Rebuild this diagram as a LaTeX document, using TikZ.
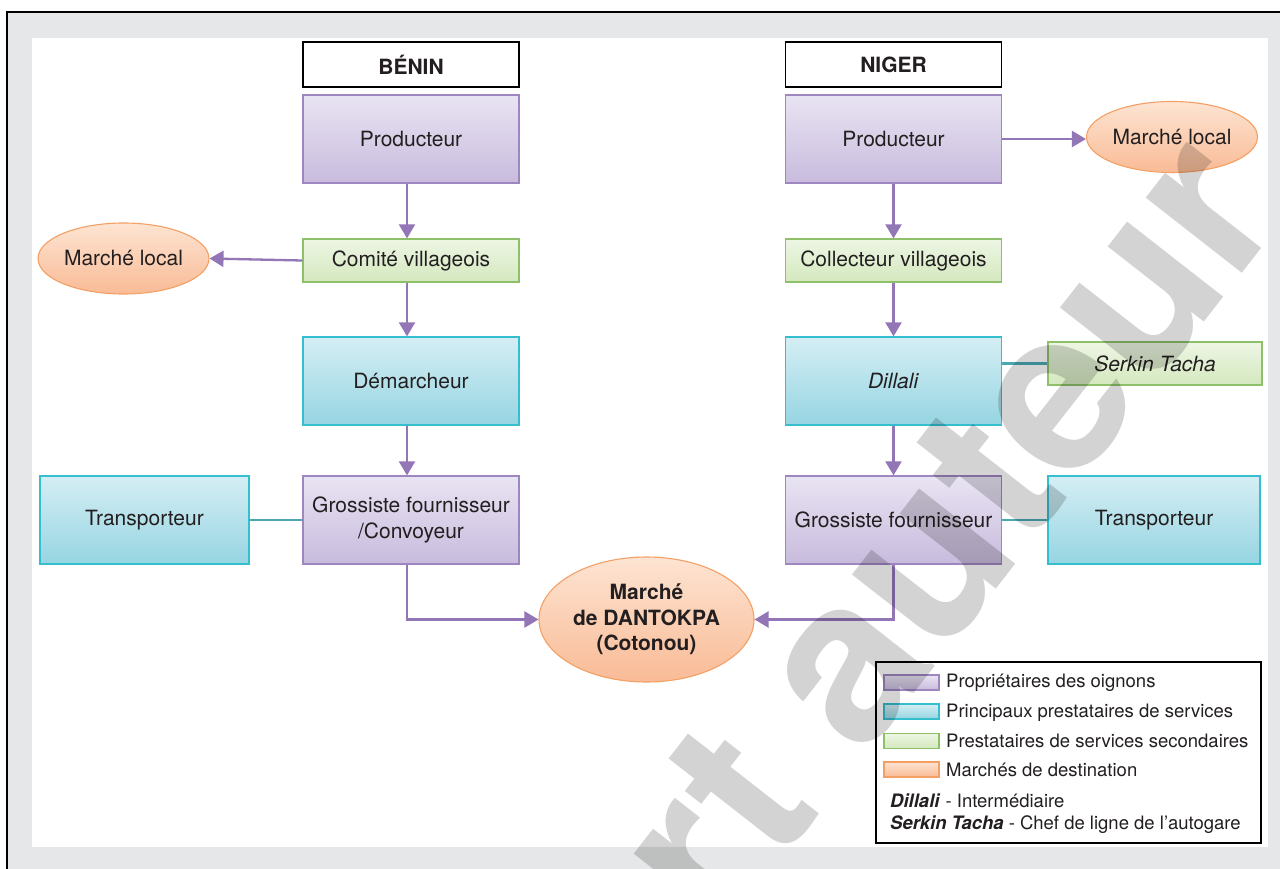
\documentclass[tikz,border=0pt]{standalone}
\usepackage{fontspec}
\setmainfont{TeX Gyre Heros}
\usepackage{tikz}
\usetikzlibrary{shapes.geometric,arrows.meta}

\definecolor{txt}{RGB}{35,31,32}
\definecolor{bggrey}{RGB}{230,231,232}
\definecolor{owndraw}{RGB}{158,134,192}
\definecolor{owntop}{RGB}{233,228,243}
\definecolor{ownbot}{RGB}{200,187,221}
\definecolor{tealdraw}{RGB}{52,190,206}
\definecolor{tealtop}{RGB}{213,238,244}
\definecolor{tealbot}{RGB}{150,213,226}
\definecolor{grndraw}{RGB}{141,192,104}
\definecolor{grntop}{RGB}{237,246,228}
\definecolor{grnbot}{RGB}{212,232,190}
\definecolor{orgdraw}{RGB}{244,160,100}
\definecolor{orgtop}{RGB}{253,228,210}
\definecolor{orgbot}{RGB}{249,187,150}
\definecolor{arr}{RGB}{146,118,182}
\definecolor{lnk}{RGB}{74,168,180}
\definecolor{wmark}{RGB}{211,211,211}

\begin{document}
\begin{tikzpicture}[x=1pt,y=-1pt,
    every node/.style={text=txt,inner sep=0pt,align=center,font=\fontsize{21}{25.5}\selectfont},
    box/.style={line width=1.3pt,minimum width=216pt,minimum height=88pt},
    owner/.style={box,draw=owndraw,top color=owntop,bottom color=ownbot},
    prest/.style={box,draw=tealdraw,top color=tealtop,bottom color=tealbot},
    minor/.style={box,minimum height=43pt,draw=grndraw,top color=grntop,bottom color=grnbot},
    market/.style={ellipse,line width=1.1pt,draw=orgdraw,top color=orgtop,bottom color=orgbot,minimum width=171pt,minimum height=71pt},
    header/.style={draw=black,line width=1.3pt,fill=white,minimum width=216pt,minimum height=45pt,font=\fontsize{21}{25.5}\selectfont\bfseries},
    swatch/.style={line width=1.2pt,minimum width=55pt,minimum height=15pt},
    legtext/.style={anchor=base west,font=\fontsize{18.5}{22}\selectfont},
    flow/.style={draw=arr,line width=2.3pt,-{Triangle[length=14pt,width=16pt]}},
    link/.style={draw=lnk,line width=2.3pt}]
  \useasboundingbox (0,0) rectangle (1280,869);
  \fill[bggrey] (7,12) rectangle (1280,869);
  \draw[black,line width=1.5pt] (7,869) -- (7,12) -- (1280,12);
  \fill[white] (32,38) rectangle (1268,847);

  % Benin column
  \node[header] (BEN) at (411,64.5) {BÉNIN};
  \node[owner] (PB) at (411,139) {Producteur};
  \node[minor] (CB) at (411,260.5) {Comité villageois};
  \node[prest] (DB) at (411,381) {Démarcheur};
  \node[owner] (GB) at (411,520) {Grossiste fournisseur\\/Convoyeur};
  \node[prest,minimum width=209pt] (TB) at (144.5,520) {Transporteur};
  \node[market] (MB) at (123.5,258.5) {Marché local};

  % Niger column
  \node[header] (NIG) at (893.5,64.5) {NIGER};
  \node[owner] (PN) at (893.5,139) {Producteur};
  \node[minor] (CN) at (893.5,260.5) {Collecteur villageois};
  \node[prest] (DN) at (893.5,381) {\textit{Dillali}};
  \node[owner] (GN) at (893.5,520) {Grossiste fournisseur};
  \node[minor,minimum width=214pt] (SN) at (1155,363.5) {\textit{Serkin Tacha}};
  \node[prest,minimum width=212pt] (TN) at (1154,520) {Transporteur};
  \node[market] (MN) at (1172,137) {Marché local};

  \node[market,minimum width=215pt,minimum height=125pt,font=\fontsize{21}{25.5}\selectfont\bfseries] (DK) at (646.5,619.5) {Marché\\de DANTOKPA\\(Cotonou)};

  % flows
  \draw[flow] ([xshift=-4pt]PB.south) -- ([xshift=-4pt]CB.north);
  \draw[flow] ([xshift=-4pt]CB.south) -- ([xshift=-4pt]DB.north);
  \draw[flow] ([xshift=-4pt]DB.south) -- ([xshift=-4pt]GB.north);
  \draw[flow] (CB.west) -- (MB.east);
  \draw[flow] ([xshift=-4pt]GB.south) |- (DK.west);
  \draw[flow] (PN) -- (CN);
  \draw[flow] (CN) -- (DN);
  \draw[flow] (DN) -- (GN);
  \draw[flow] (PN.east) -- (PN.east -| MN.west);
  \draw[flow] (GN.south) |- (DK.east);
  \draw[link] (TB) -- (GB);
  \draw[link] (GN) -- (TN);
  \draw[link] (SN.west) -- (SN.west -| DN.east);

  % legend
  \node[draw=black,line width=1.3pt,fill=white,minimum width=385pt,minimum height=181pt] (LEG) at (1068.5,752.5) {};
  \node[owner,swatch] (S1) at (911.5,682.5) {};
  \node[prest,swatch] (S2) at (911.5,711.5) {};
  \node[minor,swatch] (S3) at (911.5,741) {};
  \node[market,rectangle,swatch] (S4) at (911.5,769.5) {};
  \node[legtext] (T1) at (946,687) {Propriétaires des oignons};
  \node[legtext] (T2) at (946,717) {Principaux prestataires de services};
  \node[legtext] (T3) at (946,747) {Prestataires de services secondaires};
  \node[legtext] (T4) at (946,776) {Marchés de destination};
  \node[legtext] (T5) at (890,807) {\textbf{\textit{Dillali}} - Intermédiaire};
  \node[legtext] (T6) at (890,829) {\textbf{\textit{Serkin Tacha}} - Chef de ligne de l’autogare};

  % watermark
  \begin{scope}
    \clip (0,0) rectangle (1280,869);
    \node[text=wmark,blend mode=multiply,rotate=52,font=\fontsize{226}{226}\selectfont\bfseries] (WM) at (945,532) {rt auteur};
  \end{scope}
\end{tikzpicture}
\end{document}
